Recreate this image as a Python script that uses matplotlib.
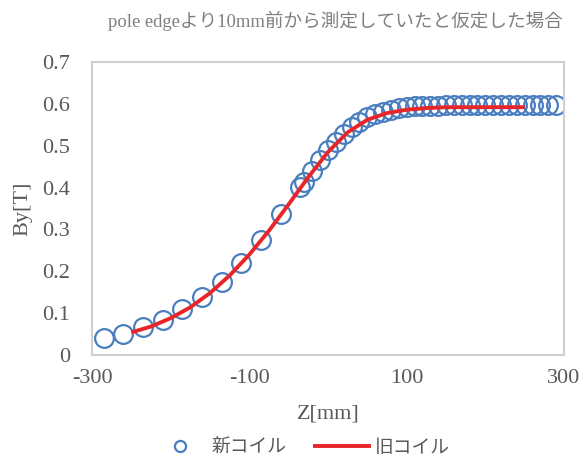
import matplotlib
matplotlib.use("Agg")
import matplotlib.pyplot as plt
from matplotlib.lines import Line2D

# New coil: coarse scan every 25 mm, then fine scan every 10 mm
z_new = [-285, -260, -235, -210, -185, -160, -135, -110, -85, -60, -35,
         -30, -20, -10, 0, 10, 20, 30, 40, 50, 60, 70, 80, 90, 100,
         110, 120, 130, 140, 150, 160, 170, 180, 190, 200, 210, 220,
         230, 240, 250, 260, 270, 280, 290]
by_new = [0.041, 0.049, 0.066, 0.084, 0.109, 0.138, 0.175, 0.220, 0.275,
          0.337, 0.402, 0.414, 0.440, 0.466, 0.490, 0.510, 0.528, 0.544,
          0.557, 0.568, 0.576, 0.581, 0.585, 0.589, 0.592, 0.594, 0.595,
          0.596, 0.596, 0.597, 0.597, 0.597, 0.597, 0.597, 0.597, 0.597,
          0.597, 0.597, 0.597, 0.597, 0.597, 0.597, 0.597, 0.597]

# Old coil
z_old = [-250, -225, -200, -175, -150, -125, -100, -75, -50, -25, 0,
         25, 50, 75, 100, 125, 150, 175, 200, 225, 250]
by_old = [0.054, 0.068, 0.088, 0.114, 0.148, 0.190, 0.240, 0.297, 0.360,
          0.425, 0.485, 0.532, 0.562, 0.578, 0.586, 0.590, 0.592, 0.592,
          0.592, 0.592, 0.592]

x_ticks = [-300, -100, 100, 300]
y_ticks = [0, 0.1, 0.2, 0.3, 0.4, 0.5, 0.6, 0.7]

label_new = "新コイル"
label_old = "旧コイル"
title = "pole edgeより10mm前から測定していたと仮定した場合"

plt.rcParams["font.family"] = ["Liberation Serif", "Noto Sans CJK JP"]

blue = "#4a7ebf"
red = "#e8262a"
text_grey = "#595959"

fig = plt.figure(figsize=(5.85, 4.57), dpi=100)
ax = fig.add_axes([92 / 585, 102 / 457, 472 / 585, 293 / 457])

ax.plot(z_new, by_new, linestyle="none", marker="o", markersize=13.5,
        markerfacecolor="none", markeredgecolor=blue, markeredgewidth=1.6,
        zorder=2)
ax.plot(z_old, by_old, color=red, linewidth=2.8, zorder=3,
        solid_capstyle="butt")

ax.set_xlim(-300, 300)
ax.set_ylim(0, 0.7)
ax.set_xticks(x_ticks)
ax.set_yticks(y_ticks)
ax.set_xticklabels([str(v) for v in x_ticks])
ax.set_yticklabels(["0" if v == 0 else f"{v:.1f}" for v in y_ticks])
ax.tick_params(axis="both", length=0, labelsize=16, colors=text_grey)
ax.tick_params(axis="y", pad=16)
ax.tick_params(axis="x", pad=10)

for sp in ax.spines.values():
    sp.set_color("#d0d0d0")
    sp.set_linewidth(1.5)

ax.set_xlabel("Z[mm]", fontsize=16, color=text_grey, labelpad=12)
ax.set_ylabel("By[T]", fontsize=16, color=text_grey, labelpad=7)

fig.text(335 / 585, 1 - 21 / 457, title, ha="center", va="center",
         fontsize=13.4, color="#7f7f7f",
         family=["Liberation Serif", "Noto Sans CJK JP"])

handles = [
    Line2D([], [], linestyle="none", marker="o", markersize=8,
           markerfacecolor="none", markeredgecolor=blue, markeredgewidth=1.6),
    Line2D([], [], color=red, linewidth=2.8),
]
leg = fig.legend(handles, [label_new, label_old], loc="center",
                 bbox_to_anchor=(301 / 585, 1 - 447 / 457), ncol=2,
                 frameon=False, handlelength=2.9,
                 columnspacing=1.5, handletextpad=0.27,
                 prop={"family": ["Noto Sans CJK JP"], "size": 13.5})
for t in leg.get_texts():
    t.set_color(text_grey)

fig.savefig("out.png", dpi=100)
